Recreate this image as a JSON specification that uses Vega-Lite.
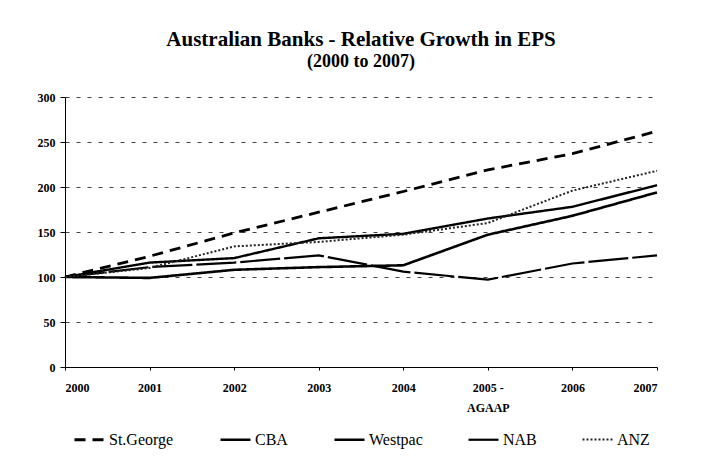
{
  "$schema": "https://vega.github.io/schema/vega-lite/v6.json",
  "width": 592,
  "height": 270,
  "autosize": {"type": "none"},
  "padding": {"left": 65, "top": 97, "right": 47, "bottom": 89},
  "background": "white",
  "title": {
    "text": "Australian Banks - Relative Growth in EPS",
    "subtitle": "(2000 to 2007)",
    "font": "Liberation Serif",
    "fontSize": 21,
    "fontWeight": "bold",
    "color": "black",
    "subtitleFont": "Liberation Serif",
    "subtitleFontSize": 18,
    "subtitleFontWeight": "bold",
    "subtitleColor": "black",
    "subtitlePadding": 3,
    "anchor": "middle",
    "offset": 20
  },
  "data": {
    "values": [
      {"year": 2000, "bank": "St.George", "value": 100},
      {"year": 2001, "bank": "St.George", "value": 123},
      {"year": 2002, "bank": "St.George", "value": 149},
      {"year": 2003, "bank": "St.George", "value": 172},
      {"year": 2004, "bank": "St.George", "value": 195},
      {"year": 2005, "bank": "St.George", "value": 219},
      {"year": 2006, "bank": "St.George", "value": 237},
      {"year": 2007, "bank": "St.George", "value": 262},
      {"year": 2000, "bank": "CBA", "value": 100},
      {"year": 2001, "bank": "CBA", "value": 99},
      {"year": 2002, "bank": "CBA", "value": 108},
      {"year": 2003, "bank": "CBA", "value": 111},
      {"year": 2004, "bank": "CBA", "value": 113},
      {"year": 2005, "bank": "CBA", "value": 147},
      {"year": 2006, "bank": "CBA", "value": 168},
      {"year": 2007, "bank": "CBA", "value": 194},
      {"year": 2000, "bank": "Westpac", "value": 100},
      {"year": 2001, "bank": "Westpac", "value": 116},
      {"year": 2002, "bank": "Westpac", "value": 121},
      {"year": 2003, "bank": "Westpac", "value": 143},
      {"year": 2004, "bank": "Westpac", "value": 148},
      {"year": 2005, "bank": "Westpac", "value": 165},
      {"year": 2006, "bank": "Westpac", "value": 178},
      {"year": 2007, "bank": "Westpac", "value": 202},
      {"year": 2000, "bank": "NAB", "value": 100},
      {"year": 2001, "bank": "NAB", "value": 111},
      {"year": 2002, "bank": "NAB", "value": 116},
      {"year": 2003, "bank": "NAB", "value": 124},
      {"year": 2004, "bank": "NAB", "value": 106},
      {"year": 2005, "bank": "NAB", "value": 97},
      {"year": 2006, "bank": "NAB", "value": 115},
      {"year": 2007, "bank": "NAB", "value": 124},
      {"year": 2000, "bank": "ANZ", "value": 100},
      {"year": 2001, "bank": "ANZ", "value": 110},
      {"year": 2002, "bank": "ANZ", "value": 134},
      {"year": 2003, "bank": "ANZ", "value": 139},
      {"year": 2004, "bank": "ANZ", "value": 147},
      {"year": 2005, "bank": "ANZ", "value": 160},
      {"year": 2006, "bank": "ANZ", "value": 196},
      {"year": 2007, "bank": "ANZ", "value": 218}
    ]
  },
  "mark": {"type": "line", "interpolate": "linear"},
  "encoding": {
    "x": {
      "field": "year",
      "type": "quantitative",
      "scale": {"domain": [2000, 2007], "nice": false, "zero": false},
      "axis": {
        "title": null,
        "values": [2000, 2001, 2002, 2003, 2004, 2005, 2006, 2007],
        "format": "d",
        "grid": false,
        "domainColor": "black",
        "domainWidth": 1.2,
        "tickColor": "black",
        "tickSize": 3,
        "labelPadding": 12,
        "labelFont": "Liberation Serif",
        "labelFontSize": 12,
        "labelFontWeight": "bold",
        "labelColor": "black",
        "labelLineHeight": 20,
        "labelBaseline": "top",
        "labelExpr": "datum.value == 2005 ? ['2005 -', 'AGAAP'] : datum.label"
      }
    },
    "y": {
      "field": "value",
      "type": "quantitative",
      "scale": {"domain": [0, 300], "nice": false},
      "axis": {
        "title": null,
        "values": [0, 50, 100, 150, 200, 250, 300],
        "grid": true,
        "gridColor": "#444444",
        "gridDash": [4, 7],
        "gridWidth": 1,
        "domainColor": "black",
        "domainWidth": 1,
        "tickColor": "black",
        "tickSize": 5,
        "labelPadding": 5,
        "labelFont": "Liberation Serif",
        "labelFontSize": 12,
        "labelFontWeight": "bold",
        "labelColor": "black"
      }
    },
    "color": {
      "field": "bank",
      "type": "nominal",
      "scale": {
        "domain": ["St.George", "CBA", "Westpac", "NAB", "ANZ"],
        "range": ["black", "black", "black", "black", "#222222"]
      },
      "legend": {
        "title": null,
        "orient": "bottom",
        "direction": "horizontal",
        "columns": 5,
        "symbolType": "stroke",
        "symbolSize": 900,
        "symbolStrokeWidth": 2,
        "columnPadding": 41,
        "labelOffset": 3,
        "labelFont": "Liberation Serif",
        "labelFontSize": 16,
        "labelColor": "black",
        "offset": 10
      }
    },
    "strokeDash": {
      "field": "bank",
      "type": "nominal",
      "scale": {
        "domain": ["St.George", "CBA", "Westpac", "NAB", "ANZ"],
        "range": [[11, 7], [1, 0], [1, 0], [40, 4], [2, 2]]
      }
    },
    "strokeWidth": {
      "field": "bank",
      "type": "nominal",
      "scale": {
        "domain": ["St.George", "CBA", "Westpac", "NAB", "ANZ"],
        "range": [2.8, 2, 2.8, 1.6, 1.2]
      },
      "legend": null
    }
  },
  "config": {
    "view": {"stroke": null},
    "legend": {"layout": {"bottom": {"anchor": "middle"}}}
  }
}
